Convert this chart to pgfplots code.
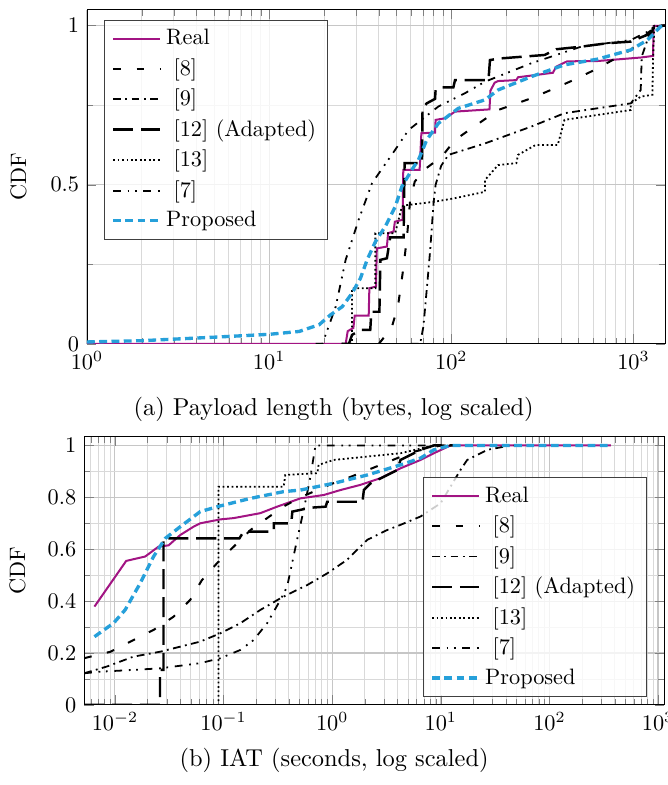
\documentclass[border=0pt]{standalone}
\usepackage{pgfplots}
\pgfplotsset{compat=1.18}
\definecolor{realc}{RGB}{162,20,131}
\definecolor{propc}{RGB}{38,160,218}
\tikzset{
  sReal/.style={realc, line width=0.9pt},
  s8/.style={black, line width=0.9pt, dash pattern=on 3.5pt off 7pt},
  s9/.style={black, line width=0.8pt, dash pattern=on 3.5pt off 2pt on 0.8pt off 2pt},
  s12/.style={black, line width=1.1pt, dash pattern=on 9pt off 3.5pt},
  s13/.style={black, line width=0.8pt, dash pattern=on 0.8pt off 1.2pt},
  s7/.style={black, line width=0.8pt, dash pattern=on 3.5pt off 3pt on 0.8pt off 2.5pt on 0.8pt off 3pt},
  sProp/.style={propc, line width=1.5pt, dash pattern=on 3.5pt off 2pt},
}
\pgfplotsset{
  legend image code/.code={\draw[#1] (0cm,0cm) -- (0.74cm,0cm);},
}
\begin{document}
\begin{tikzpicture}
\useasboundingbox (0,0) rectangle (299.1pt,352pt);
% ---------------- (a) payload length ----------------
\begin{axis}[
  xmode=log,
  scale only axis,
  grid=both,
  major grid style={gray!45, line width=0.5pt},
  minor grid style={gray!30, line width=0.4pt},
  ylabel={CDF},
  legend cell align=left,
  legend style={draw=black!75, fill=white, fill opacity=0.8, text opacity=1, draw opacity=1, row sep=0.7pt},
  at={(39pt,197.8pt)}, anchor=south west,
  width=259.2pt, height=149.8pt,
  xmin=1, xmax=1490, ymin=0, ymax=1.05,
  ytick={0,0.5,1}, minor ytick={0.25,0.75},
  ylabel style={at={(axis description cs:-0.1185,0.5)}, anchor=center},
  legend pos=north west,
]
\addplot[sReal, mark=none] coordinates {
(1,0) (26.3,0) (27,0.04) (29,0.05) (29.5,0.089) (35.2,0.089) (35.5,0.175) (38.6,0.18) (39,0.30) (44.3,0.306) (45,0.348) (48.2,0.353) (49,0.384) (54,0.39) (54.5,0.547) (67,0.547) (68.5,0.662) (81.4,0.664) (82,0.704) (92.4,0.709) (104.8,0.730) (162,0.737) (164,0.796) (173,0.821) (180.6,0.826) (227.5,0.829) (232.4,0.838) (361,0.852) (376.5,0.871) (432,0.888) (636,0.889) (1096,0.900) (1280,0.905) (1290,0.999) (1490,1.0)
};
\addlegendentry{Real}
\addplot[s8, mark=none] coordinates {
(40,0) (47,0.05) (51,0.12) (54,0.22) (57,0.33) (59.4,0.45) (63,0.51) (72,0.55) (88.5,0.588) (104.8,0.641) (129,0.677) (180.6,0.735) (275,0.772) (369,0.803) (494,0.835) (636,0.866) (967,0.924) (1245,0.986) (1300,1) (1490,1)
};
\addlegendentry{\ [8]}
\addplot[s9, mark=none] coordinates {
(60,0) (67.4,0) (70.3,0.055) (73.3,0.17) (76.6,0.295) (79.9,0.442) (82,0.5) (88,0.56) (96.4,0.594) (153,0.63) (275,0.683) (418,0.725) (967,0.756) (1096,0.798) (1110,0.903) (1245,0.986) (1300,1) (1490,1)
};
\addlegendentry{\ [9]}
\addplot[s12, mark=none] coordinates {
(25,0) (27.4,0) (28.5,0.028) (31.7,0.044) (35.9,0.044) (36.4,0.101) (40.3,0.101) (40.8,0.264) (44.3,0.269) (46.2,0.335) (54.7,0.335) (55.4,0.568) (64.6,0.568) (69,0.568) (69.5,0.74) (73.3,0.756) (81.4,0.77) (82,0.798) (88.5,0.806) (102.6,0.806) (104.8,0.829) (160,0.829) (163,0.892) (184.5,0.897) (325,0.908) (376.5,0.926) (515,0.934) (721,0.945) (966,0.95) (1245,0.976) (1310,1) (1490,1)
};
\addlegendentry{\ [12] (Adapted)}
\addplot[s13, mark=none] coordinates {
(25,0) (28.5,0) (28.5,0.175) (38.3,0.175) (38.3,0.348) (49.2,0.348) (53.5,0.431) (55,0.435) (81.4,0.447) (104.8,0.458) (153,0.478) (153,0.515) (180.6,0.562) (227.5,0.568) (232.4,0.594) (290,0.625) (384,0.625) (418,0.704) (967,0.735) (967,0.756) (1096,0.777) (1270,0.783) (1280,0.89) (1300,0.997) (1490,1)
};
\addlegendentry{\ [13]}
\addplot[s7, mark=none] coordinates {
(18,0) (19.6,0) (23.2,0.117) (26.3,0.264) (31.0,0.39) (36.7,0.505) (49.2,0.61) (58.2,0.672) (84.9,0.746) (119,0.788) (153,0.824) (275,0.882) (515,0.934) (967,0.955) (1245,0.986) (1300,1) (1490,1)
};
\addlegendentry{\ [7]}
\addplot[sProp, mark=none] coordinates {
(1,0.006) (2,0.01) (5,0.021) (10,0.03) (14.6,0.039) (18.8,0.06) (21.7,0.091) (25.2,0.117) (28.5,0.159) (31.7,0.206) (34.5,0.264) (38.3,0.321) (43.4,0.369) (49.2,0.431) (53.5,0.494) (60.7,0.547) (66,0.578) (73.3,0.641) (84.9,0.693) (109,0.74) (153,0.767) (180.6,0.798) (275,0.840) (418,0.877) (636,0.895) (967,0.924) (1193,0.955) (1410,0.997) (1490,1)
};
\addlegendentry{Proposed}
\end{axis}
% ---------------- (b) IAT ----------------
\begin{axis}[
  xmode=log,
  scale only axis,
  grid=both,
  major grid style={gray!45, line width=0.5pt},
  minor grid style={gray!30, line width=0.4pt},
  ylabel={CDF},
  legend cell align=left,
  legend style={draw=black!75, fill=white, fill opacity=0.8, text opacity=1, draw opacity=1, row sep=0.7pt},
  at={(37.7pt,35.9pt)}, anchor=south west,
  width=260.1pt, height=120.2pt,
  xmin=0.0052, xmax=1138, ymin=0, ymax=1.033,
  ytick={0,0.2,0.4,0.6,0.8,1}, minor y tick num=1,
  ylabel style={at={(axis description cs:-0.1147,0.5)}, anchor=center},
  legend pos=south east,
]
\addplot[sReal, mark=none] coordinates {
(0.00648,0.379) (0.0127,0.555) (0.019,0.572) (0.0252,0.61) (0.0312,0.615) (0.040,0.655) (0.053,0.687) (0.061,0.70) (0.0934,0.715) (0.124,0.72) (0.218,0.739) (0.311,0.764) (0.51,0.796) (0.837,0.809) (1.19,0.828) (1.82,0.848) (2.79,0.874) (4.26,0.912) (6.5,0.944) (8.64,0.97) (12.3,1.0) (367,1.0)
};
\addlegendentry{Real}
\addplot[s8, mark=none] coordinates {
(0.0052,0.18) (0.0091,0.205) (0.0148,0.25) (0.0227,0.289) (0.0347,0.34) (0.0494,0.405) (0.063,0.48) (0.087,0.546) (0.124,0.61) (0.177,0.674) (0.252,0.72) (0.358,0.765) (0.51,0.80) (0.964,0.85) (1.5,0.88) (3.2,0.935) (5.5,0.975) (8,0.99) (10,1) (15,1)
};
\addlegendentry{\ [8]}
\addplot[s9, mark=none] coordinates {
(0.0052,0.122) (0.00843,0.148) (0.0148,0.186) (0.026,0.205) (0.061,0.244) (0.0934,0.276) (0.143,0.315) (0.218,0.366) (0.334,0.411) (0.443,0.437) (0.589,0.462) (0.9,0.507) (1.37,0.559) (2.1,0.636) (3.21,0.674) (4.26,0.694) (6.5,0.726) (9.96,0.777) (15.2,0.906) (17.5,0.944) (26.8,0.983) (44,1.0) (60,1.0)
};
\addlegendentry{\ [9]}
\addplot[s12, mark=none] coordinates {
(0.0052,0) (0.026,0) (0.026,0.135) (0.028,0.135) (0.028,0.642) (0.14,0.642) (0.153,0.668) (0.29,0.668) (0.29,0.70) (0.42,0.70) (0.43,0.745) (0.63,0.76) (0.87,0.764) (0.9,0.783) (1.9,0.783) (1.96,0.828) (2.26,0.854) (3.97,0.905) (4.26,0.944) (6.5,0.983) (8.64,1) (13,1)
};
\addlegendentry{\ [12] (Adapted)}
\addplot[s13, mark=none] coordinates {
(0.0052,0) (0.09,0) (0.09,0.841) (0.358,0.841) (0.37,0.886) (0.73,0.893) (0.75,0.925) (1.03,0.944) (4.26,0.97) (8.64,1) (13,1)
};
\addlegendentry{\ [13]}
\addplot[s7, mark=none] coordinates {
(0.0052,0.122) (0.0073,0.128) (0.0148,0.135) (0.026,0.141) (0.061,0.161) (0.0934,0.18) (0.143,0.212) (0.189,0.25) (0.252,0.315) (0.334,0.405) (0.385,0.456) (0.475,0.636) (0.547,0.751) (0.631,0.88) (0.702,1.0) (10,1.0)
};
\addlegendentry{\ [7]}
\addplot[sProp, mark=none] coordinates {
(0.00648,0.263) (0.0097,0.315) (0.0124,0.366) (0.0171,0.469) (0.0227,0.572) (0.0291,0.642) (0.040,0.687) (0.061,0.745) (0.0934,0.767) (0.177,0.796) (0.358,0.822) (0.51,0.828) (1.03,0.854) (2.1,0.886) (4.26,0.925) (6.5,0.951) (8.64,0.983) (12.3,1.0) (367,1.0)
};
\addlegendentry{Proposed}
\end{axis}
\node[font=\fontsize{10.95}{13.6}\selectfont] at (149.6pt,168.2pt) {(a) Payload length (bytes, log scaled)};
\node[font=\fontsize{10.95}{13.6}\selectfont] at (149.8pt,11.2pt) {(b) IAT (seconds, log scaled)};
\end{tikzpicture}
\end{document}
